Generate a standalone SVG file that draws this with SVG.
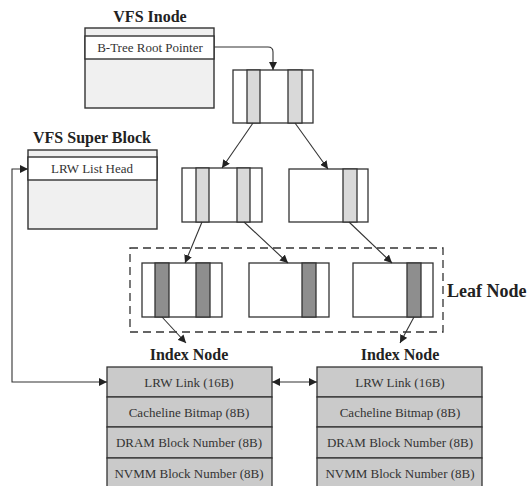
<svg xmlns="http://www.w3.org/2000/svg" width="530" height="486" viewBox="0 0 530 486">
<style>
.box{stroke:#333;stroke-width:1.4}
.fld{fill:#fff;stroke:#333;stroke-width:1.4}
.panel{fill:#f0f0f0;stroke:#333;stroke-width:1.4}
.nd{fill:#fff;stroke:#333;stroke-width:1.3}
.ls{fill:#d9d9d9;stroke:#333;stroke-width:1.3}
.ds{fill:#8e8e8e;stroke:#333;stroke-width:1.3}
.ix{fill:#cacaca;stroke:#333;stroke-width:1.3}
.ttl{font-family:"Liberation Serif",serif;font-weight:bold;font-size:16px;fill:#222;text-anchor:middle}
.t{font-family:"Liberation Serif",serif;font-size:13px;fill:#333;text-anchor:middle}
.c{fill:none;stroke:#333;stroke-width:1.1}
</style>
<defs>
<marker id="ah" viewBox="0 0 10 10" refX="10" refY="5" markerWidth="8" markerHeight="8" markerUnits="userSpaceOnUse" orient="auto-start-reverse">
<path d="M0,0 L10,5 L0,10 z" fill="#222"/>
</marker>
</defs>

<g id="vfs-inode">
<text class="ttl" x="150" y="22">VFS Inode</text>
<rect class="panel" x="85" y="28" width="129" height="80"/>
<rect class="fld" x="85" y="36" width="129" height="23"/>
<text class="t" x="150" y="52">B-Tree Root Pointer</text>
</g>

<g id="vfs-super-block">
<text class="ttl" x="92" y="143">VFS Super Block</text>
<rect class="panel" x="28" y="150" width="129" height="79"/>
<rect class="fld" x="28" y="157" width="129" height="23"/>
<text class="t" x="92" y="173">LRW List Head</text>
</g>

<g id="root-node">
<rect class="nd" x="233" y="70" width="80" height="53"/>
<rect class="ls" x="247" y="70" width="13" height="53"/>
<rect class="ls" x="288" y="70" width="14" height="53"/>
</g>

<g id="inner-left">
<rect class="nd" x="182" y="168" width="80" height="54"/>
<rect class="ls" x="196" y="168" width="13" height="54"/>
<rect class="ls" x="237" y="168" width="13" height="54"/>
</g>

<g id="inner-right">
<rect class="nd" x="289" y="169" width="79" height="53"/>
<rect class="ls" x="343" y="169" width="14" height="53"/>
</g>

<g id="leaf-group">
<rect x="130" y="248" width="313" height="84" fill="none" stroke="#333" stroke-width="1.3" stroke-dasharray="8,5"/>
<text x="447" y="297" font-family="Liberation Serif, serif" font-weight="bold" font-size="18" fill="#222">Leaf Node</text>
</g>

<g id="leaf-1">
<rect class="nd" x="142" y="263" width="80" height="54"/>
<rect class="ds" x="155" y="263" width="14" height="54"/>
<rect class="ds" x="196" y="263" width="14" height="54"/>
</g>

<g id="leaf-2">
<rect class="nd" x="249" y="263" width="80" height="54"/>
<rect class="ds" x="302" y="263" width="14" height="54"/>
</g>

<g id="leaf-3">
<rect class="nd" x="353" y="263" width="80" height="54"/>
<rect class="ds" x="407" y="263" width="14" height="54"/>
</g>

<g id="index-node-1">
<text class="ttl" x="189" y="360">Index Node</text>
<rect class="ix" x="107" y="367" width="165" height="30"/>
<rect class="ix" x="107" y="397" width="165" height="30"/>
<rect class="ix" x="107" y="427" width="165" height="31"/>
<rect class="ix" x="107" y="458" width="165" height="31"/>
<text class="t" x="189" y="387">LRW Link (16B)</text>
<text class="t" x="189" y="417">Cacheline Bitmap (8B)</text>
<text class="t" x="189" y="447">DRAM Block Number (8B)</text>
<text class="t" x="189" y="478">NVMM Block Number (8B)</text>
</g>

<g id="index-node-2">
<text class="ttl" x="400" y="360">Index Node</text>
<rect class="ix" x="317" y="367" width="165" height="30"/>
<rect class="ix" x="317" y="397" width="165" height="30"/>
<rect class="ix" x="317" y="427" width="165" height="31"/>
<rect class="ix" x="317" y="458" width="165" height="31"/>
<text class="t" x="400" y="387">LRW Link (16B)</text>
<text class="t" x="400" y="417">Cacheline Bitmap (8B)</text>
<text class="t" x="400" y="447">DRAM Block Number (8B)</text>
<text class="t" x="400" y="478">NVMM Block Number (8B)</text>
</g>

<g id="connectors">
<path class="c" d="M214,47 H268 Q273,47 273,52 V70" marker-end="url(#ah)"/>
<path class="c" d="M253,123 L222,168" marker-end="url(#ah)"/>
<path class="c" d="M295,123 L328,169" marker-end="url(#ah)"/>
<path class="c" d="M202,222 L185,263" marker-end="url(#ah)"/>
<path class="c" d="M244,222 L288,263" marker-end="url(#ah)"/>
<path class="c" d="M349,222 L392,263" marker-end="url(#ah)"/>
<path class="c" d="M162,317 L186,343" marker-end="url(#ah)"/>
<path class="c" d="M414,317 L400,343" marker-end="url(#ah)"/>
<path class="c" d="M107,382 H12 V169 H28" marker-start="url(#ah)" marker-end="url(#ah)"/>
<path class="c" d="M272,382 H317" marker-start="url(#ah)" marker-end="url(#ah)"/>
</g>
</svg>
